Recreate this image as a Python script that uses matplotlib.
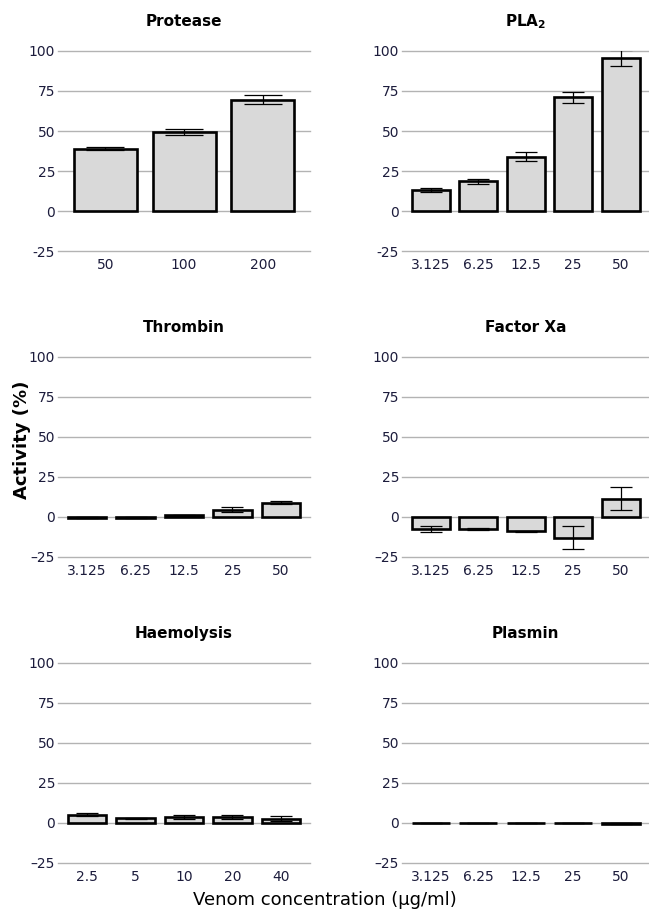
import numpy as np
import matplotlib.pyplot as plt

# data (activity %, mean and error)
conc_protease = ["50", "100", "200"]
conc_std = ["3.125", "6.25", "12.5", "25", "50"]
conc_haem = ["2.5", "5", "10", "20", "40"]

protease = [39, 49.5, 69.5]
protease_err = [0.8, 1.8, 2.8]

pla2 = [13, 18.5, 34, 71, 95.5]
pla2_err = [1.2, 1.5, 2.6, 3.2, 5]

thrombin = [-0.5, -0.5, 1, 4.5, 9]
thrombin_err = [0.3, 0.3, 0.3, 1.5, 1]

factor_xa = [-7.5, -7.5, -9, -13, 11.5]
factor_xa_err = [1.6, 0.4, 0.5, 7.3, 7.1]

haemolysis = [5.2, 3, 3.7, 3.7, 2.8]
haemolysis_err = [1, 0.3, 1.4, 1, 1.4]

plasmin = [0.2, 0.2, 0.2, 0.2, -0.4]
plasmin_err = [0.1, 0.1, 0.1, 0.1, 0.3]

yticks = [-25, 0, 25, 50, 75, 100]

panels = [
    ("Protease", conc_protease, protease, protease_err),
    ("PLA$_\\mathregular{2}$", conc_std, pla2, pla2_err),
    ("Thrombin", conc_std, thrombin, thrombin_err),
    ("Factor Xa", conc_std, factor_xa, factor_xa_err),
    ("Haemolysis", conc_haem, haemolysis, haemolysis_err),
    ("Plasmin", conc_std, plasmin, plasmin_err),
]

W, H = 649, 914
fig = plt.figure(figsize=(W / 100, H / 100), dpi=100)

# axes boxes in pixels: (left, right) and (top=100, bottom=-25)
cols = [(58, 310), (402, 649)]
rows = [(51, 251), (357, 557), (663, 863)]

tick_color = "#1c1c3c"

for i, (title, cats, vals, errs) in enumerate(panels):
    l, r = cols[i % 2]
    t, b = rows[i // 2]
    ax = fig.add_axes([l / W, 1 - b / H, (r - l) / W, (b - t) / H])
    x = np.arange(len(cats))
    cap = 14 if len(cats) == 3 else 8
    ax.bar(x, vals, width=0.8, color="#d9d9d9", edgecolor="black",
           linewidth=1.9, zorder=2)
    ax.errorbar(x, vals, yerr=errs, fmt="none", ecolor="black",
                elinewidth=0.9, capsize=cap, capthick=0.9, zorder=3)
    ax.set_xlim(-0.6, len(cats) - 1 + 0.6)
    ax.set_ylim(-25, 100)
    ax.set_yticks(yticks)
    # top row uses a plain hyphen, lower rows a dash
    minus = "-" if i < 2 else "\u2013"
    ax.set_yticklabels([str(v).replace("-", minus) for v in yticks])
    ax.set_xticks(x)
    ax.set_xticklabels(cats)
    ax.grid(axis="y", color="#b3b3b3", linewidth=1.0, zorder=0)
    for gl in ax.get_ygridlines():
        gl.set_clip_on(False)
    for s in ax.spines.values():
        s.set_visible(False)
    ax.tick_params(length=0, labelsize=10, colors=tick_color, pad=2)
    ax.tick_params(axis="x", pad=5)
    ax.set_title(title, fontsize=11, fontweight="bold", pad=18)

fig.text(22 / W, 1 - 440 / H, "Activity (%)", rotation=90, ha="center",
         va="center", fontsize=13, fontweight="bold")
fig.text(325 / W, 1 - 900 / H, "Venom concentration (µg/ml)", ha="center",
         va="center", fontsize=13)

fig.savefig("out.png", dpi=100)
